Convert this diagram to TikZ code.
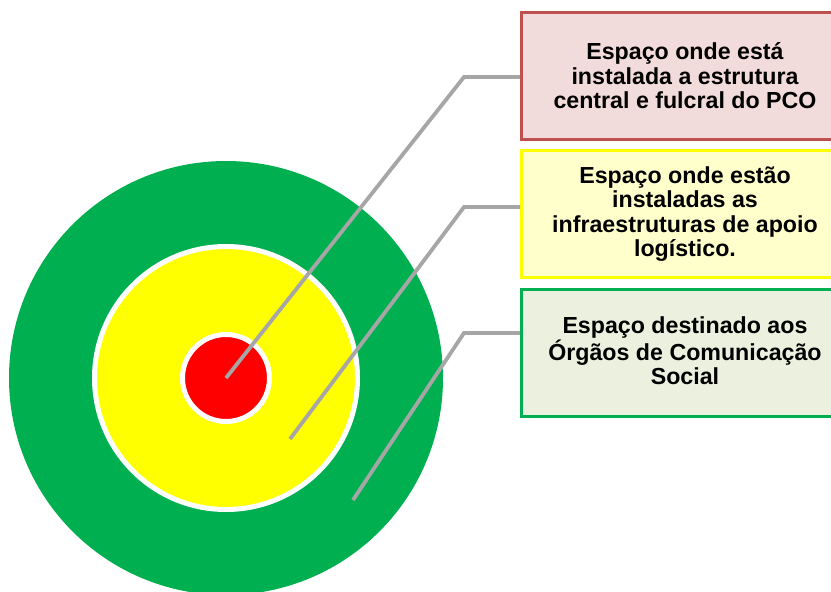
\documentclass[tikz,border=0pt]{standalone}
\usepackage{fontspec}
\setmainfont{Liberation Sans}
\usepackage{tikz}
\usetikzlibrary{positioning}
\usepackage{xcolor}
\definecolor{ringgreen}{HTML}{00B050}
\definecolor{ringyellow}{HTML}{FFFF00}
\definecolor{ringred}{HTML}{FF0000}
\definecolor{redline}{HTML}{C0504D}
\definecolor{redfill}{HTML}{F2DCDB}
\definecolor{yellowfill}{HTML}{FFFFCC}
\definecolor{greenfill}{HTML}{EBF1DE}
\definecolor{leader}{HTML}{A6A6A6}

\begin{document}
\begin{tikzpicture}[x=1pt,y=-1pt,
    ring/.style={circle,inner sep=0pt,outer sep=0pt},
    infobox/.style={rectangle,line width=3pt,
        minimum width=327pt,minimum height=127pt,
        align=center,text=black,
        font=\bfseries\fontsize{23.2}{24.6}\selectfont},
    leaderline/.style={draw=leader,line width=3.8pt}]
    \useasboundingbox (0,0) rectangle (831,592);
    % Add the rings
        \node[ring,
              fill=ringgreen,
              minimum size=434pt
              ] (outer) at (226,378) {};
        \node[ring,
              fill=ringyellow,
              draw=white,
              line width=5pt,
              minimum size=263pt
              ] (middle) at (outer.center) {};
        \node[ring,
              fill=ringred,
              draw=white,
              line width=5pt,
              minimum size=87pt
              ] (inner) at (outer.center) {};
        \coordinate (pmid) at (290,439);
        \coordinate (pout) at (353,500);
    % Add the boxes
        \node[infobox,
              draw=redline,
              fill=redfill
              ] (redbox) at (685,76)
              {Espaço onde está\\instalada a estrutura\\central e fulcral do PCO};
        \node[infobox,
              draw=ringyellow,
              fill=yellowfill,
              below=8pt of redbox
              ] (yellowbox)
              {Espaço onde estão\\instaladas as\\infraestruturas de apoio\\logístico.};
        \node[infobox,
              draw=ringgreen,
              fill=greenfill,
              below=9pt of yellowbox,
              text depth=4pt
              ] (greenbox)
              {Espaço destinado aos\\Órgãos de Comunicação\\Social};

    \draw[leaderline]
        (inner.center) -- ([shift={(-56pt,-1pt)}]redbox.west) -- ([yshift=-1pt]redbox.west);
    \draw[leaderline]
        (pmid) -- ([shift={(-56pt,7pt)}]yellowbox.west) -- ([yshift=7pt]yellowbox.west);
    \draw[leaderline]
        (pout) -- ([shift={(-56pt,20pt)}]greenbox.west) -- ([yshift=20pt]greenbox.west);
\end{tikzpicture}
\end{document}
